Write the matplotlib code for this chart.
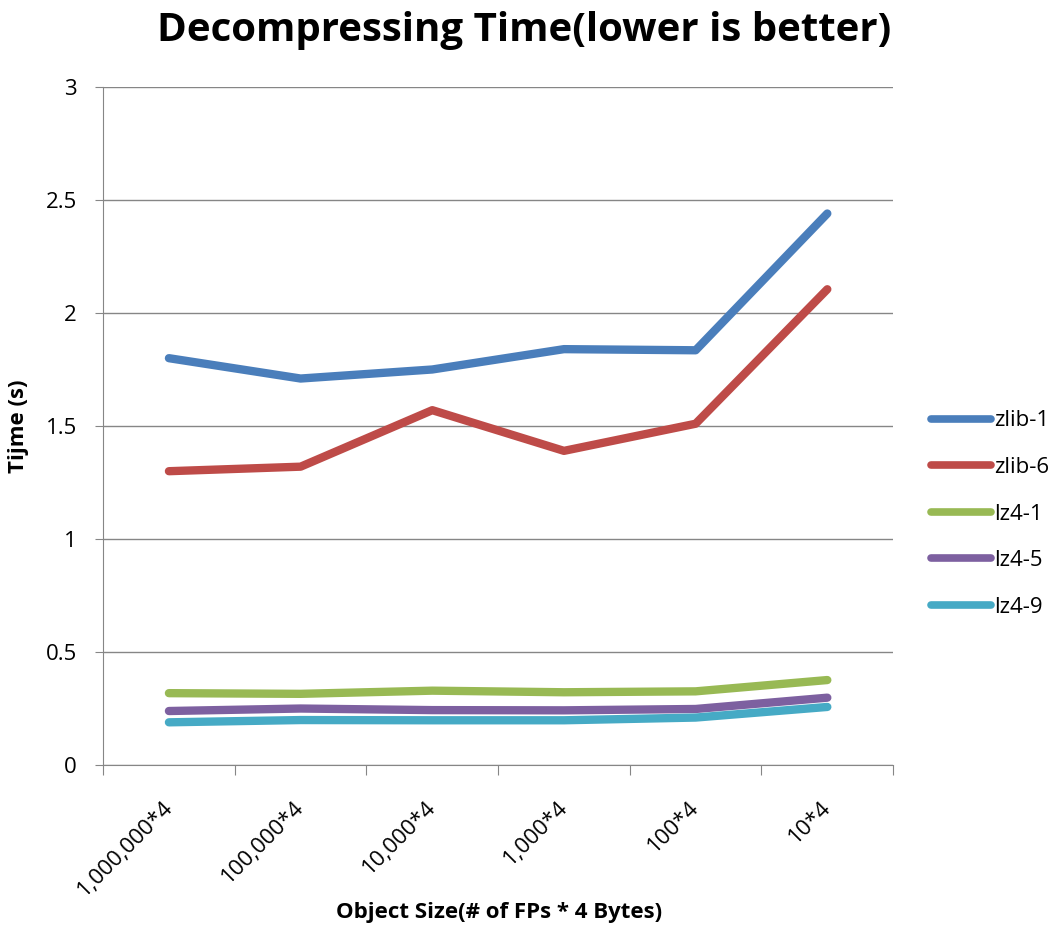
import numpy as np
import matplotlib.pyplot as plt
import matplotlib.transforms as mtransforms

plt.rcParams['font.family'] = ['Open Sans', 'DejaVu Sans']

sizes = ['1,000,000*4', '100,000*4', '10,000*4', '1,000*4', '100*4', '10*4']
zlib_1 = [1.80, 1.71, 1.75, 1.84, 1.835, 2.44]
zlib_6 = [1.30, 1.32, 1.57, 1.39, 1.51, 2.105]
lz4_1 = [0.318, 0.315, 0.329, 0.322, 0.326, 0.376]
lz4_5 = [0.239, 0.250, 0.243, 0.242, 0.248, 0.298]
lz4_9 = [0.189, 0.199, 0.198, 0.198, 0.210, 0.257]

series = [
    ('zlib-1', zlib_1, '#4a7ebb'),
    ('zlib-6', zlib_6, '#be4b48'),
    ('lz4-1', lz4_1, '#98b954'),
    ('lz4-5', lz4_5, '#7d60a0'),
    ('lz4-9', lz4_9, '#46aac5'),
]

fig = plt.figure(figsize=(10.52, 9.38), dpi=100)
ax = fig.add_axes([0.098, 0.1844, 0.751, 0.7229])

x = np.arange(len(sizes))
for name, vals, color in series:
    ax.plot(x, vals, color=color, lw=6, solid_capstyle='round',
            solid_joinstyle='round', label=name)

ax.set_xlim(-0.5, len(sizes) - 0.5)
ax.set_ylim(0, 3)
ax.set_yticks([0, 0.5, 1, 1.5, 2, 2.5, 3])
ax.set_yticklabels(['0', '0.5', '1', '1.5', '2', '2.5', '3'], fontsize=16)
ax.yaxis.grid(True, color='#868686', lw=1)
ax.set_axisbelow(True)

# category ticks sit between the groups, labels at the centres
ax.set_xticks(np.arange(-0.5, len(sizes), 1.0))
ax.set_xticklabels([])
ax.set_xticks(x, minor=True)
ax.set_xticklabels(sizes, minor=True, rotation=45, ha='right',
                   rotation_mode='anchor', fontsize=16)
ax.tick_params(axis='x', which='minor', length=0, pad=20)
ax.tick_params(axis='x', which='major', length=7, color='#868686')
ax.tick_params(axis='y', length=6, color='#868686', pad=13)

shift = mtransforms.ScaledTranslation(-0.07, -0.04, fig.dpi_scale_trans)
for lbl in ax.get_xticklabels(minor=True):
    lbl.set_transform(lbl.get_transform() + shift)

for s in ['top', 'right']:
    ax.spines[s].set_visible(False)
for s in ['left', 'bottom']:
    ax.spines[s].set_color('#868686')

fig.text(0.018, 0.546, 'Tijme (s)', fontsize=16, fontweight='bold',
         rotation=90, ha='center', va='center')
fig.text(0.474, 0.016, 'Object Size(# of FPs * 4 Bytes)', fontsize=16,
         fontweight='bold', ha='center', va='bottom')
fig.text(0.498, 0.968, 'Decompressing Time(lower is better)', fontsize=29,
         fontweight='bold', ha='center', va='center')

leg = fig.legend(loc='center left', bbox_to_anchor=(0.866, 0.452),
                 frameon=False, fontsize=16, handlelength=2.7,
                 handletextpad=0.12, labelspacing=1.15)
for line in leg.get_lines():
    line.set_linewidth(5.5)

fig.savefig('out.png', dpi=100)
